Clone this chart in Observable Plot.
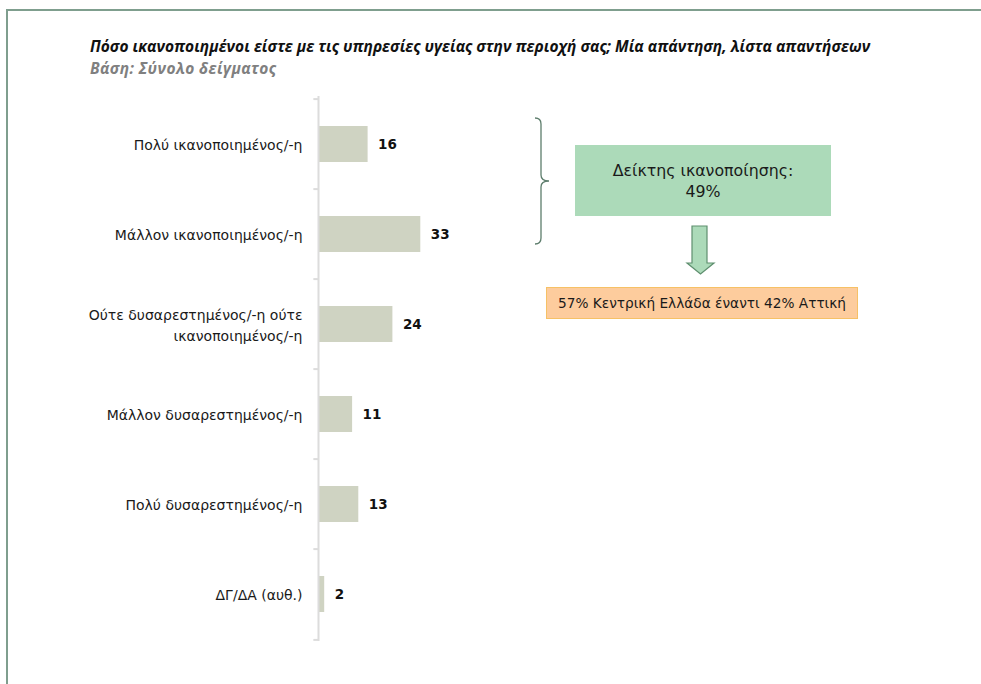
<!DOCTYPE html>
<html>
<head>
<meta charset="utf-8">
<script src="https://cdn.jsdelivr.net/npm/d3@7"></script>
<script src="https://cdn.jsdelivr.net/npm/@observablehq/plot@0.6"></script>
<style>
  html, body { margin: 0; padding: 0; background: #ffffff; }
  #page { position: relative; width: 981px; height: 684px; overflow: hidden; font-family: "DejaVu Sans", sans-serif; }
  #frameTop { position: absolute; left: 6px; top: 9px; width: 975px; height: 2px; background: #7f9e8e; }
  #frameLeft { position: absolute; left: 6px; top: 9px; width: 2px; height: 675px; background: #7f9e8e; }
  #title { position: absolute; left: 90px; top: 36px; font-family: "Open Sans", sans-serif; font-style: italic; font-weight: 700; font-size: 15.5px; line-height: 21px; color: #111; letter-spacing: 0px; white-space: nowrap; }
  #subtitle { position: absolute; left: 90px; top: 58px; font-family: "Open Sans", sans-serif; font-style: italic; font-weight: 700; font-size: 15.5px; line-height: 21px; color: #808080; letter-spacing: 0.4px; white-space: nowrap; }
  #chart { position: absolute; left: 0; top: 0; }
  #indexBox { position: absolute; left: 575px; top: 145px; width: 256px; height: 71px; background: #acdab9; color: #1a1a1a; font-size: 15.8px; line-height: 21px; text-align: center; display: flex; flex-direction: column; justify-content: center; }
  #regionBox { position: absolute; left: 546px; top: 287px; width: 310px; height: 30px; background: #fdcc9d; border: 1px solid #f6c166; color: #1a1a1a; font-size: 13.7px; line-height: 30px; text-align: center; white-space: nowrap; }
  #deco { position: absolute; left: 0; top: 0; }
</style>
</head>
<body>
<div id="page">
  <div id="frameTop"></div>
  <div id="frameLeft"></div>
  <div id="title"></div>
  <div id="subtitle"></div>
  <div id="chart"></div>
  <svg id="deco" width="981" height="684">
    <path d="M535,118 Q541,118 541,124 L541,175 Q541,181 549,181 Q541,181 541,187 L541,238 Q541,244 535,244" fill="none" stroke="#5d7d6c" stroke-width="1.3"/>
    <path d="M692,226 L707,226 L707,263 L714,263 L700.5,274 L687,263 L692,263 Z" fill="#acdab9" stroke="#5f8f6f" stroke-width="1.2"/>
  </svg>
  <div id="indexBox"></div>
  <div id="regionBox"></div>
</div>
<script>
const titleText = "Πόσο ικανοποιημένοι είστε με τις υπηρεσίες υγείας στην περιοχή σας; Μία απάντηση, λίστα απαντήσεων";
const subtitleText = "Βάση: Σύνολο δείγματος";
const categories = [
  "Πολύ ικανοποιημένος/-η",
  "Μάλλον ικανοποιημένος/-η",
  "Ούτε δυσαρεστημένος/-η ούτε\nικανοποιημένος/-η",
  "Μάλλον δυσαρεστημένος/-η",
  "Πολύ δυσαρεστημένος/-η",
  "ΔΓ/ΔΑ (αυθ.)"
];
const values = [16, 33, 24, 11, 13, 2];
const indexLines = ["Δείκτης ικανοποίησης:", "49%"];
const regionText = "57% Κεντρική Ελλάδα έναντι 42% Αττική";

document.getElementById("title").textContent = titleText;
document.getElementById("subtitle").textContent = subtitleText;
document.getElementById("indexBox").innerHTML = indexLines.map(t => `<div>${t}</div>`).join("");
document.getElementById("regionBox").textContent = regionText;

const data = categories.map((c, i) => ({category: c, value: values[i]}));
const W = 981, H = 684;
const mTop = 96, mBottom = H - 641, mLeft = 318;
const step = (H - mTop - mBottom) / categories.length;

const chart = Plot.plot({
  width: W,
  height: H,
  marginTop: mTop,
  marginBottom: mBottom,
  marginLeft: mLeft,
  marginRight: W - mLeft - 310,
  style: {background: "transparent", fontFamily: "DejaVu Sans, sans-serif"},
  x: {domain: [0, 100], axis: null},
  y: {domain: categories, type: "band", padding: 0, axis: null},
  marks: [
    Plot.barX(data, {y: "category", x: "value", fill: "#cfd3c2", insetTop: 27, insetBottom: 27}),
    Plot.ruleX([0], {stroke: "#dcdcdc", strokeWidth: 2}),
    Plot.ruleY(categories, {y: d => d, x1: -1.5, x2: 0, dy: -step / 2, stroke: "#dcdcdc", strokeWidth: 2}),
    Plot.ruleY([categories[categories.length - 1]], {y: d => d, x1: -1.5, x2: 0, dy: step / 2, stroke: "#dcdcdc", strokeWidth: 2}),
    Plot.text(data, {y: "category", x: 0, text: "category", dx: -16, dy: -1, textAnchor: "end", fontSize: 14, fill: "#1a1a1a", lineHeight: 1.5}),
    Plot.text(data, {y: "category", x: "value", text: d => String(d.value), dx: 10, textAnchor: "start", fontSize: 13.5, fontWeight: "bold", fill: "#111", style: "letter-spacing:1.5px"})
  ]
});
document.getElementById("chart").appendChild(chart);
</script>
</body>
</html>
